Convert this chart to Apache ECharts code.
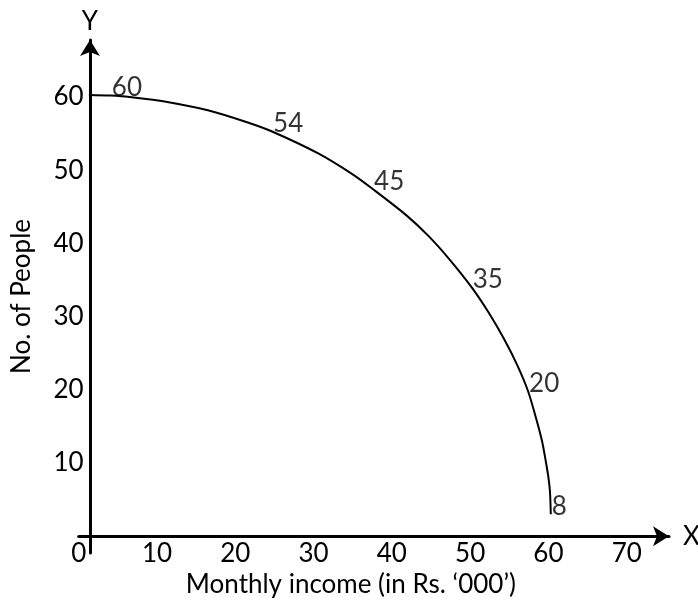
<!DOCTYPE html>
<html>
<head>
<meta charset="utf-8">
<script src="https://cdn.jsdelivr.net/npm/echarts@6/dist/echarts.min.js"></script>
<style>
  html, body { margin: 0; padding: 0; background: #ffffff; }
  #chart { width: 698px; height: 600px; }
</style>
</head>
<body>
<div id="chart"></div>
<script>
// ---- data ----
const xTickValues = [0, 10, 20, 30, 40, 50, 60, 70];
const yTickValues = [10, 20, 30, 40, 50, 60];

// points (income in '000, people)
const curveIncome = [1.3, 4.1, 6.5, 11.5, 16.5, 21.4, 24.7, 30.6, 34.9, 37.6, 41.9, 44.7, 47.3, 50.2,
                     52.4, 54.3, 56.0, 57.4, 58.5, 59.2, 59.7, 60.0, 60.2, 60.3];
const curvePeople = [60.3, 60.2, 60.0, 59.3, 58.2, 56.6, 55.3, 52.3, 49.5, 47.4, 43.8, 41.0, 37.9, 34.0,
                     30.5, 27.0, 23.4, 19.8, 15.8, 12.9, 10.0, 8.0, 6.0, 3.0];

// labelled points on the curve
const pointIncome = [4.1, 24.7, 37.6, 50.2, 57.4, 60.3];
const pointPeople = [60.2, 55.3, 47.4, 34.0, 19.8, 3.0];
const pointLabels = ['60', '54', '45', '35', '20', '8'];

const xAxisName = 'Monthly income (in Rs. \u2018000\u2019)';
const yAxisName = 'No. of People';

// ---- layout ----
const X_MIN = 0, X_MAX = 75.4;
const Y_MIN = -2.3, Y_MAX = 67.8;
const Y_AXIS_AT = 1.44;   // x-value where the vertical axis is drawn
const FONT = 'Lato, "Open Sans", sans-serif';
const FS = 26;

const curveData = curveIncome.map((x, i) => [x, curvePeople[i]]);
const pointData = pointIncome.map((x, i) => ({ value: [x, pointPeople[i]], name: pointLabels[i] }));

const chart = echarts.init(document.getElementById('chart'), null, { renderer: 'canvas' });
chart.setOption({
  animation: false,
  backgroundColor: '#ffffff',
  textStyle: { fontFamily: FONT, color: '#000' },
  grid: { left: 78.7, right: 29, top: 40, bottom: 47, outerBoundsMode: 'none', containLabel: false },
  xAxis: [
    {
      type: 'value', min: X_MIN, max: X_MAX,
      axisLine: { show: true, onZero: true, symbol: ['none', 'arrow'], symbolSize: [15, 16],
                  lineStyle: { color: '#000', width: 3 } },
      axisTick: { show: false },
      splitLine: { show: false },
      axisLabel: { customValues: xTickValues, color: '#000', fontFamily: FONT, fontSize: FS, margin: -12 },
      name: xAxisName, nameLocation: 'middle', nameGap: 18,
      nameTextStyle: { fontFamily: FONT, fontSize: FS, color: '#000', padding: [0, 46, 0, 0] }
    },
    {
      type: 'value', min: X_MIN - Y_AXIS_AT, max: X_MAX - Y_AXIS_AT, position: 'bottom',
      axisLine: { show: false, onZero: true, onZeroAxisIndex: 0 },
      axisTick: { show: false }, splitLine: { show: false }, axisLabel: { show: false },
      name: 'X', nameLocation: 'end', nameGap: 14,
      nameTextStyle: { fontFamily: FONT, fontSize: FS, color: '#000' }
    }
  ],
  yAxis: [
    {
      type: 'value', min: Y_MIN, max: Y_MAX, position: 'left',
      axisLine: { show: true, onZero: true, onZeroAxisIndex: 1, symbol: ['none', 'arrow'], symbolSize: [15, 16],
                  lineStyle: { color: '#000', width: 3 } },
      axisTick: { show: false },
      splitLine: { show: false },
      axisLabel: { customValues: yTickValues, color: '#000', fontFamily: FONT, fontSize: FS, margin: -5 },
      name: 'Y', nameLocation: 'end', nameGap: 5,
      nameTextStyle: { fontFamily: FONT, fontSize: FS, color: '#000', align: 'center' }
    },
    {
      type: 'value', min: Y_MIN, max: Y_MAX, position: 'left',
      axisLine: { show: false, onZero: false },
      axisTick: { show: false }, splitLine: { show: false }, axisLabel: { show: false },
      name: yAxisName, nameLocation: 'middle', nameRotate: 90, nameGap: 44,
      nameTextStyle: { fontFamily: FONT, fontSize: FS, color: '#000' }
    }
  ],
  series: [
    {
      type: 'line', xAxisIndex: 0, yAxisIndex: 0,
      data: curveData, smooth: 0.3, showSymbol: false, symbol: 'none',
      lineStyle: { color: '#000', width: 2 },
      silent: true
    },
    {
      type: 'scatter', xAxisIndex: 0, yAxisIndex: 0,
      data: pointData, symbolSize: 0,
      itemStyle: { color: 'rgba(0,0,0,0)' },
      label: { show: true, position: 'right', distance: 0, offset: [1, -8],
               formatter: p => p.name, color: '#000', fontFamily: FONT, fontSize: FS },
      silent: true
    }
  ]
});
</script>
</body>
</html>
